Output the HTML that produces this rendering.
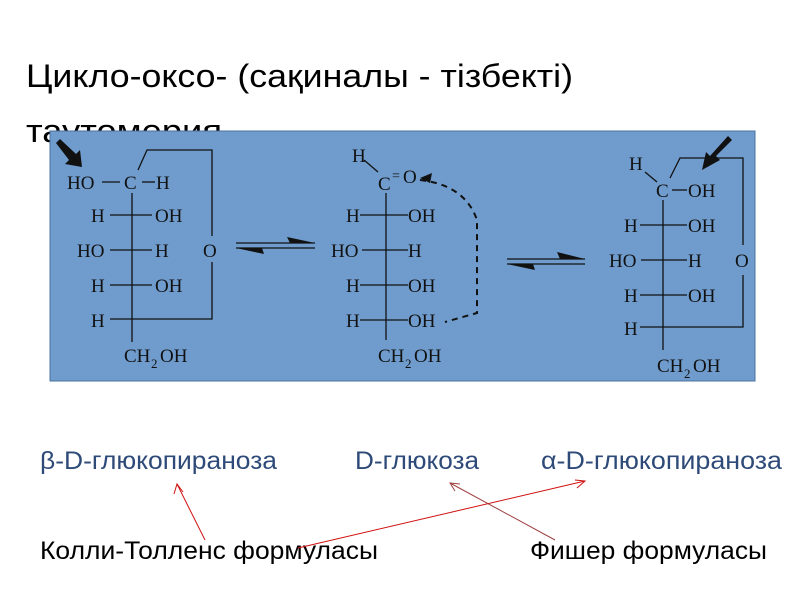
<!DOCTYPE html>
<html><head><meta charset="utf-8"><style>
body{margin:0;background:#fff;width:800px;height:600px;overflow:hidden}
svg{display:block}
.c{font-family:"Liberation Serif",serif;font-size:19px;fill:#111}
.t{font-family:"Liberation Sans","DejaVu Sans",sans-serif}
</style></head><body>
<svg width="800" height="600" viewBox="0 0 800 600">
<text class="t" x="26" y="87" font-size="32" fill="#000" textLength="547" lengthAdjust="spacingAndGlyphs">Цикло-оксо- (сақиналы - тізбекті)</text>
<text class="t" x="26" y="142" font-size="32" fill="#000" textLength="196" lengthAdjust="spacingAndGlyphs">таутомерия</text>
<rect x="50" y="131" width="705" height="250" fill="#6f9ccd" stroke="#4a70a0" stroke-width="1"/>
<g stroke="#111" stroke-width="1.3" fill="none">
<line x1="132" y1="193" x2="132" y2="342"/>
<line x1="102" y1="182" x2="120" y2="182"/><line x1="142" y1="182" x2="155" y2="182"/>
<line x1="110" y1="215" x2="152" y2="215"/>
<line x1="110" y1="250" x2="152" y2="250"/>
<line x1="110" y1="285" x2="152" y2="285"/>
<polyline points="138,170 147,150 212,150 212,236"/>
<polyline points="212,262 212,319 110,319"/>
<line x1="386" y1="193" x2="386" y2="340"/>
<line x1="364" y1="160" x2="378" y2="172"/>
<line x1="360" y1="215" x2="408" y2="215"/>
<line x1="362" y1="250" x2="408" y2="250"/>
<line x1="360" y1="285" x2="408" y2="285"/>
<line x1="360" y1="320" x2="408" y2="320"/>
<path d="M420,180 Q465,185 477,220 L477,313 L445,322" stroke-dasharray="6,5" stroke-width="2"/>
<line x1="663" y1="200" x2="663" y2="350"/>
<line x1="645" y1="172" x2="657" y2="182"/><line x1="672" y1="190" x2="687" y2="190"/>
<line x1="640" y1="225" x2="687" y2="225"/>
<line x1="641" y1="260" x2="687" y2="260"/>
<line x1="640" y1="295" x2="687" y2="295"/>
<polyline points="670,178 680,158 743,158 743,245"/>
<polyline points="743,275 743,327 640,327"/>
<line x1="236" y1="243" x2="315" y2="243"/><line x1="236" y1="248" x2="315" y2="248"/>
<line x1="507" y1="259" x2="585" y2="259"/><line x1="507" y1="264" x2="585" y2="264"/>
</g>
<g fill="#111">
<polygon points="287,237 315,243 290,243"/><polygon points="236,248 264,254 262,248"/>
<polygon points="557,252 585,259 560,259"/><polygon points="507,264 535,270 533,264"/>
<polygon points="56,143 60,139 76,154 80,150 82,167 65,164 69,160"/>
<polygon points="728,136 732,140 716,156 720,160 702,170 706,152 710,156"/>
<polygon points="420,178 432,173 430,183"/>
</g>
<g class="c">
<text x="67" y="189">HO</text><text x="124" y="189">C</text><text x="156" y="189">H</text>
<text x="91" y="222">H</text><text x="155" y="222">OH</text>
<text x="77" y="257">HO</text><text x="155" y="257">H</text><text x="203" y="257">O</text>
<text x="91" y="292">H</text><text x="155" y="292">OH</text>
<text x="91" y="327">H</text>
<text x="124" y="362">CH</text><text x="151" y="368" font-size="13">2</text><text x="160" y="362">OH</text>
<text x="352" y="162">H</text><text x="378" y="190">C</text><text x="403" y="183">O</text>
<text x="392" y="180" font-size="14">=</text>
<text x="346" y="222">H</text><text x="408" y="222">OH</text>
<text x="331" y="257">HO</text><text x="408" y="257">H</text>
<text x="346" y="292">H</text><text x="408" y="292">OH</text>
<text x="346" y="327">H</text><text x="408" y="327">OH</text>
<text x="378" y="362">CH</text><text x="405" y="368" font-size="13">2</text><text x="414" y="362">OH</text>
<text x="629" y="170">H</text><text x="656" y="197">C</text><text x="688" y="197">OH</text>
<text x="624" y="232">H</text><text x="688" y="232">OH</text>
<text x="609" y="267">HO</text><text x="688" y="267">H</text><text x="735" y="267">O</text>
<text x="624" y="302">H</text><text x="688" y="302">OH</text>
<text x="624" y="335">H</text>
<text x="657" y="372">CH</text><text x="684" y="378" font-size="13">2</text><text x="693" y="372">OH</text>
</g>
<g class="t" font-size="25" fill="#2e4a78">
<text x="40" y="469" textLength="237" lengthAdjust="spacingAndGlyphs">β-D-глюкопираноза</text>
<text x="355" y="469" textLength="124" lengthAdjust="spacingAndGlyphs">D-глюкоза</text>
<text x="541" y="469" textLength="241" lengthAdjust="spacingAndGlyphs">α-D-глюкопираноза</text>
</g>
<g class="t" font-size="25" fill="#000">
<text x="40" y="559" textLength="338" lengthAdjust="spacingAndGlyphs">Колли-Толленс формуласы</text>
<text x="530" y="559" textLength="237" lengthAdjust="spacingAndGlyphs">Фишер формуласы</text>
</g>
<g stroke="#d01010" stroke-width="1" fill="none">
<line x1="205" y1="540" x2="177" y2="484"/><polyline points="174,494 177,484 183,492"/>
<line x1="298" y1="548" x2="585" y2="481"/><polyline points="575,480 585,481 577,488"/>
<line x1="555" y1="540" x2="450" y2="483" stroke="#a04040"/><polyline points="455,491 450,483 460,484" stroke="#a04040"/>
</g>
</svg>
</body></html>
